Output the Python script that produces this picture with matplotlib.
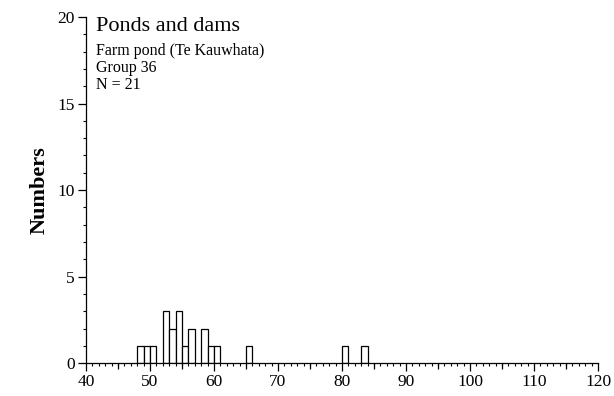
import numpy as np
import matplotlib
matplotlib.use("Agg")
import matplotlib.pyplot as plt
from matplotlib.ticker import MultipleLocator

plt.rcParams['font.family'] = ['Liberation Serif', 'DejaVu Serif']

# length classes (left edge of 1-unit bins) and counts
lengths = [48, 49, 50, 52, 53, 54, 55, 56, 58, 59, 60, 65, 80, 83]
counts = [1, 1, 1, 3, 2, 3, 1, 2, 2, 1, 1, 1, 1, 1]

title = "Ponds and dams"
info = ["Farm pond (Te Kauwhata)", "Group 36", "N = 21"]

fig = plt.figure(figsize=(6.14, 3.96), dpi=100)
ax = fig.add_axes([0.140, 0.083, 0.834, 0.874])

ax.bar(lengths, counts, width=1, align='edge', color='white',
       edgecolor='black', linewidth=0.9)

ax.set_xlim(40, 120)
ax.set_ylim(0, 20)
ax.spines['top'].set_visible(False)
ax.spines['right'].set_visible(False)
ax.spines['left'].set_linewidth(0.9)
ax.spines['bottom'].set_linewidth(0.9)

ax.xaxis.set_major_locator(MultipleLocator(10))
ax.xaxis.set_minor_locator(MultipleLocator(1))
ax.yaxis.set_major_locator(MultipleLocator(5))
ax.yaxis.set_minor_locator(MultipleLocator(1))
ax.tick_params(which='major', direction='out', length=6, width=0.9,
               labelsize=12.5, pad=2)
ax.tick_params(which='minor', direction='out', length=2.2, width=0.8)

# medium ticks at the fives on x
sec = ax.secondary_xaxis('bottom')
sec.set_xticks(np.arange(45, 120, 10))
sec.tick_params(length=4, width=0.9, labelbottom=False)
sec.spines['bottom'].set_visible(False)

ax.set_ylabel("Numbers", fontsize=16, fontweight='bold', labelpad=6)

ax.text(0.019, 1.0, title, transform=ax.transAxes, fontsize=16, va='top')
for i, line in enumerate(info):
    ax.text(0.019, 0.925 - i * 0.049, line, transform=ax.transAxes,
            fontsize=11.5, va='top')

fig.savefig("out.png", dpi=100)
